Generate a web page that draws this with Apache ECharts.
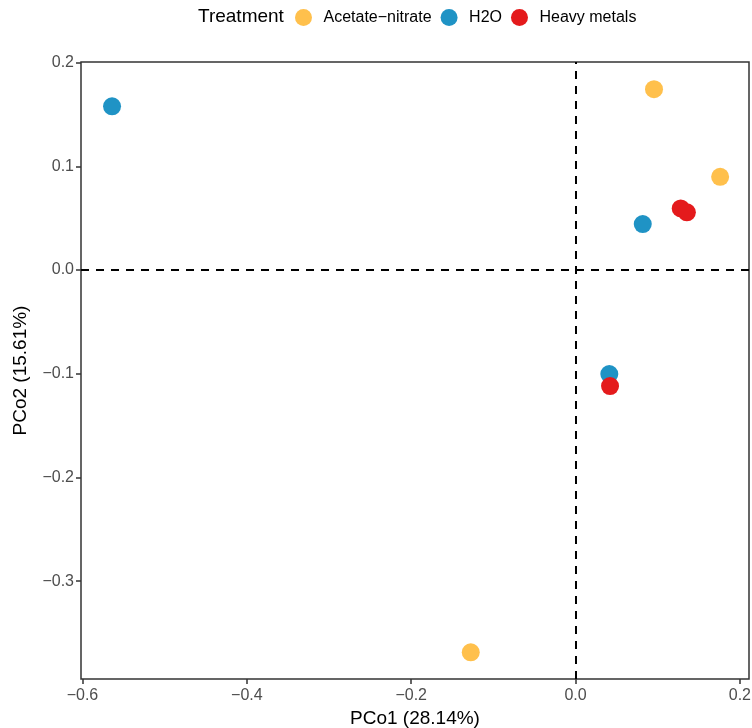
<!DOCTYPE html>
<html>
<head>
<meta charset="utf-8">
<script src="https://cdn.jsdelivr.net/npm/echarts@6/dist/echarts.min.js"></script>
<style>
  html, body { margin: 0; padding: 0; background: #fff; }
  #chart { width: 752px; height: 728px; }
</style>
</head>
<body>
<div id="chart"></div>
<script>
// PCoA ordination: sample scores on the first two principal coordinates
const groups = ['Acetate\u2212nitrate', 'H2O', 'Heavy metals'];
const groupColors = ['#FFC04C', '#1F93C5', '#E41A1C'];

const acetatePCo1 = [0.0955, 0.176, -0.1275];
const acetatePCo2 = [0.1745, 0.0900, -0.3687];

const h2oPCo1 = [-0.564, 0.0818, 0.0411];
const h2oPCo2 = [0.158, 0.0444, -0.1003];

const metalsPCo1 = [0.128, 0.1355, 0.0420];
const metalsPCo2 = [0.0595, 0.0557, -0.1119];

const xTicks = [-0.6, -0.4, -0.2, 0.0, 0.2];
const yTicks = [-0.3, -0.2, -0.1, 0.0, 0.1, 0.2];

const xTitle = 'PCo1 (28.14%)';
const yTitle = 'PCo2 (15.61%)';
const legendTitle = 'Treatment';

const pairs = (xs, ys) => xs.map((x, i) => [x, ys[i]]);
const groupData = [
  pairs(acetatePCo1, acetatePCo2),
  pairs(h2oPCo1, h2oPCo2),
  pairs(metalsPCo1, metalsPCo2)
];

const fmt = v => {
  const s = v.toFixed(1);
  return s.startsWith('-') ? '\u2212' + s.slice(1) : s;
};

const FONT = '"Liberation Sans", Arial, sans-serif';

const series = groups.map((name, i) => ({
  name: name,
  type: 'scatter',
  symbol: 'circle',
  symbolSize: 18,
  itemStyle: { color: groupColors[i], opacity: 1 },
  data: groupData[i],
  z: 3
}));

// dashed reference lines through the origin
series.push({
  name: 'origin',
  type: 'scatter',
  data: [],
  silent: true,
  markLine: {
    silent: true,
    symbol: 'none',
    label: { show: false },
    lineStyle: { color: '#000', type: [8, 7], width: 2 },
    data: [{ xAxis: 0 }, { yAxis: 0 }]
  },
  z: 2
});

const chart = echarts.init(document.getElementById('chart'), null, { renderer: 'canvas' });
chart.setOption({
  animation: false,
  backgroundColor: '#fff',
  textStyle: { fontFamily: FONT },
  graphic: [{
    type: 'text',
    left: 198,
    top: 7,
    style: { text: legendTitle, fontFamily: FONT, fontSize: 19, fill: '#000' }
  }],
  legend: {
    data: groups,
    left: 290,
    top: 4,
    orient: 'horizontal',
    icon: 'circle',
    itemWidth: 30,
    itemHeight: 17,
    itemGap: 9,
    textStyle: { fontFamily: FONT, fontSize: 16, color: '#000' }
  },
  grid: {
    left: 81, right: 3, top: 62, bottom: 49,
    outerBoundsMode: 'none',
    containLabel: false,
    show: true, borderColor: '#333', borderWidth: 1.5, backgroundColor: '#fff'
  },
  xAxis: {
    type: 'value',
    min: -0.6018,
    max: 0.2111,
    name: xTitle,
    nameLocation: 'middle',
    nameGap: 28,
    nameTextStyle: { fontFamily: FONT, fontSize: 19, color: '#000' },
    axisLine: { show: false, onZero: false },
    splitLine: { show: false },
    axisTick: { show: true, customValues: xTicks, length: 5, lineStyle: { color: '#333', width: 1.5 } },
    axisLabel: { customValues: xTicks, formatter: fmt, margin: 9, fontFamily: FONT, fontSize: 16, color: '#4D4D4D', hideOverlap: false }
  },
  yAxis: {
    type: 'value',
    min: -0.3944,
    max: 0.2007,
    name: yTitle,
    nameLocation: 'middle',
    nameGap: 51,
    nameRotate: 90,
    nameTextStyle: { fontFamily: FONT, fontSize: 19, color: '#000' },
    axisLine: { show: false, onZero: false },
    splitLine: { show: false },
    axisTick: { show: true, customValues: yTicks, length: 5, lineStyle: { color: '#333', width: 1.5 } },
    axisLabel: { customValues: yTicks, formatter: fmt, margin: 7, fontFamily: FONT, fontSize: 16, color: '#4D4D4D', hideOverlap: false }
  },
  series: series
});
</script>
</body>
</html>
